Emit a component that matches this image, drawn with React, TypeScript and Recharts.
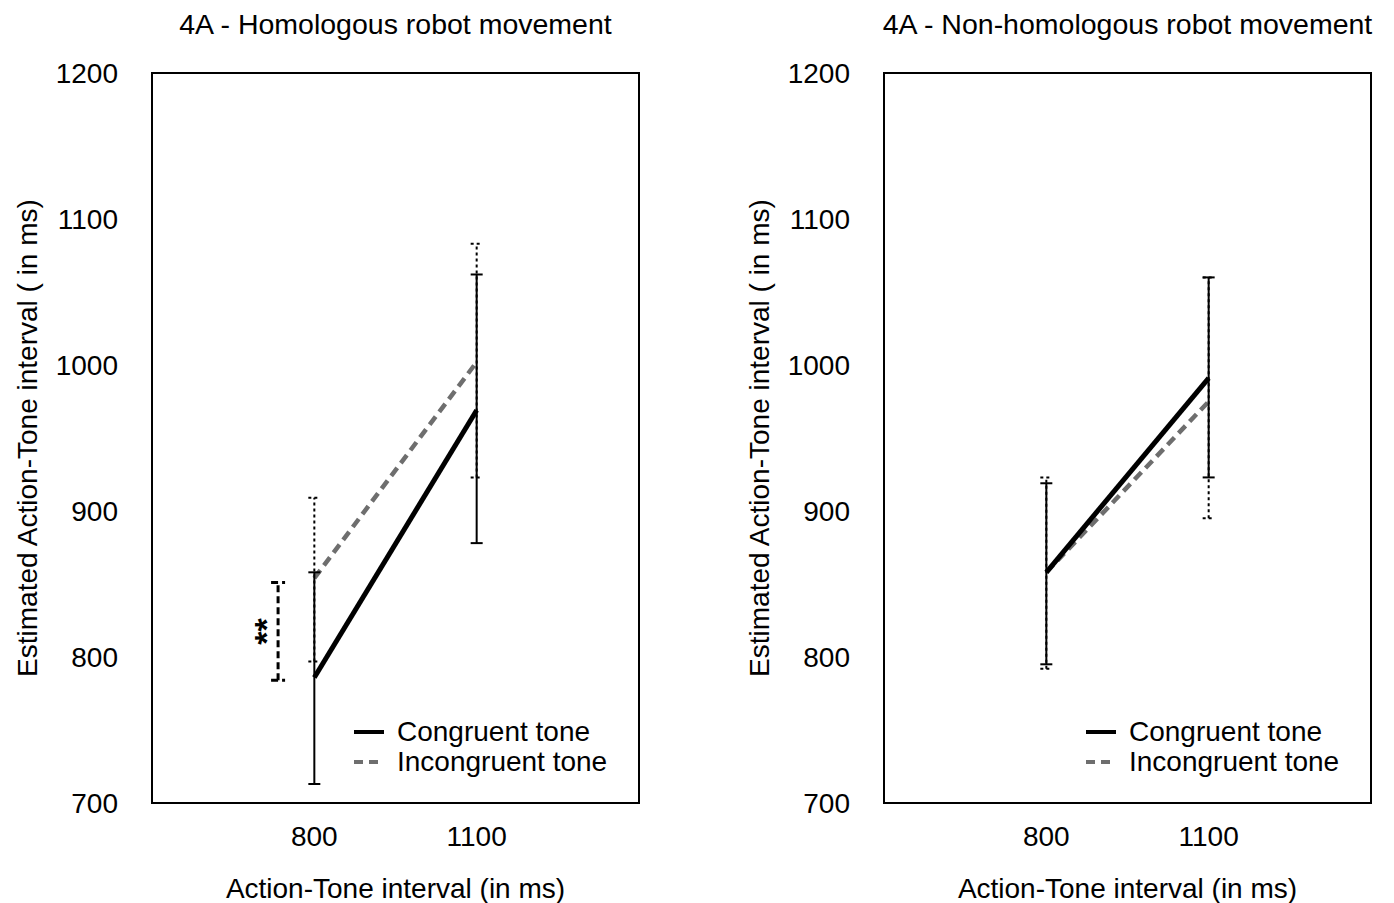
import React from "react";
import { LineChart, Line, XAxis, YAxis, ErrorBar, ReferenceArea, Label } from "recharts";

const intervals = [800, 1100];
const yTicks = [700, 800, 900, 1000, 1100, 1200];

// 4A - Homologous robot movement
const homCongruentMean = [786, 969];
const homCongruentLow = [713, 878];
const homCongruentHigh = [858, 1062];
const homIncongruentMean = [854, 1002];
const homIncongruentLow = [797, 923];
const homIncongruentHigh = [909, 1083];

// 4A - Non-homologous robot movement
const nonCongruentMean = [858, 991];
const nonCongruentLow = [795, 923];
const nonCongruentHigh = [919, 1060];
const nonIncongruentMean = [858, 975];
const nonIncongruentLow = [792, 895];
const nonIncongruentHigh = [923, 1060];

// ** marker (homologous, 800 ms)
const sigX = [733];
const sigLow = [784];
const sigHigh = [851];

const FONT = "'Liberation Sans', Arial, Helvetica, sans-serif";
const FS = 28;

function rows(mean: number[], low: number[], high: number[], xs = intervals) {
  return xs.map((x, i) => ({
    x,
    y: mean[i],
    err: [mean[i] - low[i], high[i] - mean[i]],
  }));
}

function sigRows() {
  return sigX.map((x, i) => {
    const mid = (sigLow[i] + sigHigh[i]) / 2;
    return { x, y: mid, err: [mid - sigLow[i], sigHigh[i] - mid] };
  });
}

const StarDot = (p: any) => (
  <text
    key={`star-${p.index}`}
    x={p.cx - 12}
    y={p.cy}
    transform={`rotate(-90 ${p.cx - 12} ${p.cy})`}
    textAnchor="middle"
    dominantBaseline="central"
    fontFamily={FONT}
    fontSize={34}
    fontWeight="bold"
    fill="#000"
  >
    **
  </text>
);

function Panel({
  left,
  width,
  title,
  congruent,
  incongruent,
  sig,
}: {
  left: number;
  width: number;
  title: string;
  congruent: any[];
  incongruent: any[];
  sig?: any[];
}) {
  const plotLeft = 152;
  const plotW = 487;
  return (
    <div style={{ position: "absolute", left, top: 0, width, height: 903 }}>
      <div
        style={{
          position: "absolute",
          left: plotLeft - 80,
          width: plotW + 160,
          top: 8,
          textAlign: "center",
          fontFamily: FONT,
          fontSize: 28.5,
          lineHeight: "32px",
          color: "#000",
          whiteSpace: "nowrap",
        }}
      >
        {title}
      </div>
      <LineChart
        width={width}
        height={903}
        margin={{ top: 73, right: width - plotLeft - plotW, bottom: 0, left: 0 }}
      >
        <XAxis
          dataKey="x"
          type="number"
          domain={[500, 1400]}
          ticks={intervals}
          allowDataOverflow
          height={100}
          axisLine={false}
          tickLine={false}
          tickSize={0}
          tickMargin={23}
          tick={{ fontFamily: FONT, fontSize: FS, fill: "#000" }}
        >
          <Label
            content={(p: any) => {
              const vb = p.viewBox;
              return (
                <text
                  x={vb.x + vb.width / 2}
                  y={vb.y + 95}
                  textAnchor="middle"
                  fontFamily={FONT}
                  fontSize={FS}
                  fill="#000"
                >
                  Action-Tone interval (in ms)
                </text>
              );
            }}
          />
        </XAxis>
        <XAxis
          xAxisId="in"
          dataKey="x"
          type="number"
          domain={[500, 1400]}
          ticks={intervals}
          orientation="bottom"
          mirror
          axisLine={false}
          tick={false}
          tickSize={5}
          tickLine={{ stroke: "#000", strokeWidth: 2 }}
        />
        <YAxis
          type="number"
          domain={[700, 1200]}
          ticks={yTicks}
          width={152}
          axisLine={false}
          tickLine={false}
          tickSize={0}
          tickMargin={34}
          tick={{ fontFamily: FONT, fontSize: FS, fill: "#000" }}
        >
          <Label
            content={(p: any) => {
              const vb = p.viewBox;
              const cx = vb.x + 27;
              const cy = vb.y + vb.height / 2;
              return (
                <text
                  x={cx}
                  y={cy}
                  transform={`rotate(-90 ${cx} ${cy})`}
                  textAnchor="middle"
                  dominantBaseline="central"
                  fontFamily={FONT}
                  fontSize={FS}
                  fill="#000"
                >
                  Estimated Action-Tone interval ( in ms)
                </text>
              );
            }}
          />
        </YAxis>
        <YAxis
          yAxisId="in"
          type="number"
          domain={[700, 1200]}
          ticks={yTicks}
          mirror
          axisLine={false}
          tick={false}
          tickSize={5}
          tickLine={{ stroke: "#000", strokeWidth: 2 }}
        />
        <ReferenceArea
          x1={500}
          x2={1400}
          y1={700}
          y2={1200}
          fill="none"
          fillOpacity={0}
          stroke="#000"
          strokeWidth={2}
          ifOverflow="visible"
        />
        <Line
          data={incongruent}
          dataKey="y"
          stroke="#6e6e6e"
          strokeWidth={4.5}
          strokeDasharray="10 6"
          dot={false}
          isAnimationActive={false}
        >
          <ErrorBar dataKey="err" width={6} stroke="#000" strokeWidth={2} strokeDasharray="3 3" />
        </Line>
        <Line
          data={congruent}
          dataKey="y"
          stroke="#000"
          strokeWidth={5}
          dot={false}
          isAnimationActive={false}
        >
          <ErrorBar dataKey="err" width={6} stroke="#000" strokeWidth={2} />
        </Line>
        {sig && (
          <Line
            data={sig}
            dataKey="y"
            stroke="none"
            dot={StarDot}
            isAnimationActive={false}
          >
            <ErrorBar dataKey="err" width={7} stroke="#000" strokeWidth={3} strokeDasharray="7 4" />
          </Line>
        )}
      </LineChart>
      <div
        style={{
          position: "absolute",
          left: 354,
          top: 717,
          fontFamily: FONT,
          fontSize: FS,
          lineHeight: "30px",
          color: "#000",
        }}
      >
        {[
          { name: "Congruent tone", color: "#000", dash: undefined, w: 4 },
          { name: "Incongruent tone", color: "#6e6e6e", dash: "9 6", w: 4 },
        ].map((it) => (
          <div key={it.name} style={{ display: "flex", alignItems: "center", height: 30 }}>
            <svg width={43} height={30}>
              <line x1={0} x2={30} y1={15} y2={15} stroke={it.color} strokeWidth={it.w} strokeDasharray={it.dash} />
            </svg>
            <span>{it.name}</span>
          </div>
        ))}
      </div>
    </div>
  );
}

export default function App() {
  return (
    <div style={{ position: "absolute", left: 0, top: 0, width: 1394, height: 903, background: "#fff" }}>
      <Panel
        left={0}
        width={700}
        title="4A - Homologous robot movement"
        congruent={rows(homCongruentMean, homCongruentLow, homCongruentHigh)}
        incongruent={rows(homIncongruentMean, homIncongruentLow, homIncongruentHigh)}
        sig={sigRows()}
      />
      <Panel
        left={732}
        width={662}
        title="4A - Non-homologous robot movement"
        congruent={rows(nonCongruentMean, nonCongruentLow, nonCongruentHigh)}
        incongruent={rows(nonIncongruentMean, nonIncongruentLow, nonIncongruentHigh)}
      />
    </div>
  );
}
